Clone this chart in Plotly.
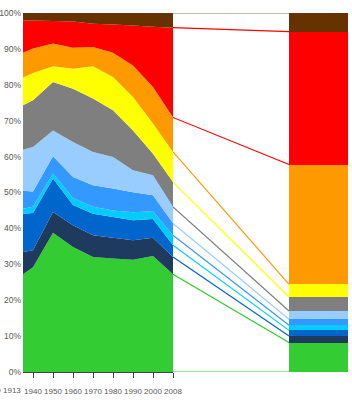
import numpy as np
import plotly.graph_objects as go

# ---------------- data ----------------
years = ["1913", "1940", "1950", "1960", "1970", "1980", "1990", "2000", "2008"]
hidden_year = "1900"  # only its last digit shows at the left edge
pct_ticks = list(range(0, 101, 10))
pct_labels = [f"{v}%" for v in pct_ticks]

# stacked area shares (%) per year, bottom to top
green = [27.2, 29.2, 38.8, 34.8, 32.0, 31.6, 31.3, 32.3, 27.2]
navy = [6.2, 4.7, 5.8, 6.1, 6.1, 5.8, 5.4, 5.1, 4.8]
mid_blue = [10.7, 10.4, 9.3, 5.6, 6.0, 5.8, 5.6, 5.2, 3.3]
cyan = [1.4, 1.7, 1.4, 2.0, 1.9, 1.8, 2.2, 2.2, 2.8]
dodger = [5.0, 4.3, 4.8, 5.8, 6.0, 6.1, 5.6, 4.4, 3.3]
light_blue = [11.4, 12.4, 7.2, 9.8, 9.3, 8.8, 6.1, 5.6, 4.6]
gray = [12.4, 13.0, 13.5, 14.8, 14.9, 13.0, 11.1, 6.0, 6.9]
yellow = [7.7, 7.6, 4.4, 5.6, 9.0, 9.3, 9.3, 8.4, 8.4]
orange = [6.9, 6.8, 6.3, 5.8, 5.3, 6.7, 8.8, 10.2, 9.6]
red = [9.0, 7.8, 6.3, 7.3, 6.5, 7.9, 11.1, 16.8, 25.0]
brown = [2.1, 2.1, 2.2, 2.4, 3.0, 3.2, 3.5, 3.8, 4.1]

# single stacked bar on the right (%), bottom to top
bar_values = [8.2, 1.8, 1.6, 1.4, 1.7, 2.3, 3.9, 3.5, 33.4, 37.0, 5.2]

# ---------------- styling ----------------
series = [green, navy, mid_blue, cyan, dodger, light_blue, gray, yellow, orange, red, brown]
colors = ["#33cc33", "#1f3a5f", "#0066cc", "#00ccff", "#3399ff", "#99ccff",
          "#7f7f7f", "#ffff00", "#ff9900", "#ff0000", "#663300"]
# colour of the connector line drawn at each boundary (0 %, top of each band)
line_colors = ["#33cc33", "#33cc33", "#0066cc", "#00ccff", "#3399ff", "#99ccff",
               "#7f7f7f", "#ffff00", "#ff9900", "#ff0000", "#ff0000", "#9a7a5a"]

# category positions on the area axis (1913 sits at the left edge)
year_pos = [0.5, 1, 2, 3, 4, 5, 6, 7, 8]
tick_pos = year_pos[1:]

W, H = 352, 400
ML, MR, MT, MB = 23, 4, 13, 28
plot_w = W - ML - MR
area_px = 150
split = area_px / plot_w
right_px = plot_w - area_px
bar_left = 116
bar_center = (bar_left + right_px) / 2
bar_width = right_px - bar_left

font_fam = "Liberation Sans, Arial, sans-serif"
txt_col = "#595959"
xfont = dict(size=8, color=txt_col, family=font_fam)

fig = go.Figure()

for vals, col in zip(series, colors):
    fig.add_trace(go.Scatter(
        x=year_pos, y=vals, stackgroup="area", mode="none",
        fillcolor=col, line=dict(width=0), showlegend=False,
        hoverinfo="skip", xaxis="x", yaxis="y"))

for v, col in zip(bar_values, colors):
    fig.add_trace(go.Bar(
        x=[bar_center], y=[v], width=[bar_width],
        marker=dict(color=col, line=dict(width=0)), showlegend=False,
        hoverinfo="skip", xaxis="x2", yaxis="y"))

area_last = np.concatenate([[0], np.cumsum([s[-1] for s in series])])
bar_cum = np.concatenate([[0], np.cumsum(bar_values)])
area_last[-1] = 100
bar_cum[-1] = 100
for a, b, col in zip(area_last, bar_cum, line_colors):
    fig.add_trace(go.Scatter(
        x=[0, bar_left], y=[a, b], mode="lines",
        line=dict(color=col, width=1.2), showlegend=False,
        hoverinfo="skip", cliponaxis=False, xaxis="x2", yaxis="y"))

# labels left of the area axis range (1913 slot and the cut-off 1900 slot)
extra = []
for lab, right_px_edge in [(years[0], -1), (hidden_year, -21)]:
    extra.append(dict(text=lab, x=right_px_edge / plot_w, xref="paper", y=0, yref="paper",
                      xanchor="right", yanchor="top", yshift=-13,
                      showarrow=False, font=xfont, borderpad=0))

fig.update_layout(
    width=W, height=H,
    margin=dict(l=ML, r=MR, t=MT, b=MB, pad=0, autoexpand=False),
    paper_bgcolor="white", plot_bgcolor="white",
    barmode="stack", bargap=0,
    font=dict(family=font_fam, color=txt_col),
    xaxis=dict(
        domain=[0, split], range=[0.5, 8], showgrid=False, zeroline=False,
        showline=True, linecolor="#444444", linewidth=1, automargin=False,
        tickmode="array", tickvals=tick_pos, ticktext=years[1:],
        ticks="outside", ticklen=5, tickcolor="#444444", tickangle=0,
        ticklabelstandoff=6,
        tickfont=xfont, fixedrange=True),
    xaxis2=dict(
        domain=[split, 1], range=[0, right_px], anchor="y", automargin=False,
        showgrid=False, zeroline=False, showline=False,
        showticklabels=False, ticks="", fixedrange=True),
    yaxis=dict(
        range=[0, 100], tickmode="array", tickvals=pct_ticks, ticktext=pct_labels,
        showgrid=False, zeroline=False, showline=False, automargin=False,
        ticks="", ticklabelstandoff=1,
        tickfont=dict(size=8.5, color=txt_col, family=font_fam),
        fixedrange=True),
    annotations=extra,
)

fig.write_html("out.html")
